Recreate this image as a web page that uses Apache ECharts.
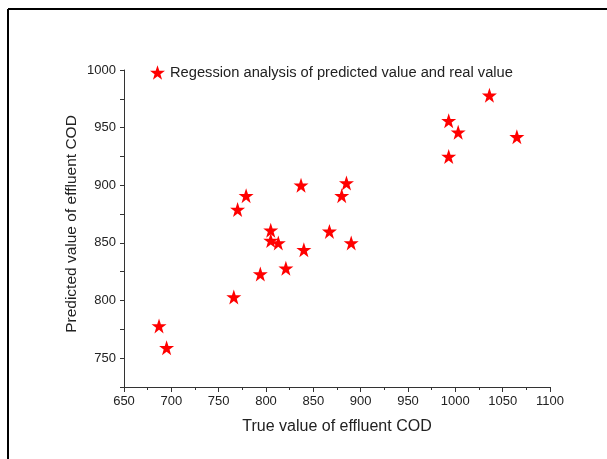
<!DOCTYPE html>
<html>
<head>
<meta charset="utf-8">
<script src="https://cdn.jsdelivr.net/npm/echarts@6/dist/echarts.min.js"></script>
<style>
  html, body { margin: 0; padding: 0; background: #fff; }
  #chart { width: 607px; height: 459px; }
</style>
</head>
<body>
<div id="chart"></div>
<script>
// valores
const trueCOD = [687, 695, 766, 794, 821, 805, 805, 813, 840, 867, 890, 770, 779, 837, 885, 880, 993, 1003, 993, 1036, 1065];
const predictedCOD = [778, 759, 803, 823, 828, 861, 852, 850, 844, 860, 850, 879, 891, 900, 902, 891, 956, 946, 925, 978, 942];
const seriesName = 'Regession analysis of predicted value and real value';

const star = 'path://M50,0 L61.8,35.1 L98.1,35.1 L68.8,56.8 L79.4,91.9 L50,70 L20.6,91.9 L31.2,56.8 L1.9,35.1 L38.2,35.1 Z';

const points = trueCOD.map((x, i) => [x, predictedCOD[i]]);

const chart = echarts.init(document.getElementById('chart'));
const textColor = '#222';
const axisColor = '#333';
const font = 'Liberation Sans, Arial';

chart.setOption({
    backgroundColor: '#fff',
    animation: false,
    grid: { left: 124, top: 70, right: 57, bottom: 72 },
    legend: {
        left: 145,
        top: 60,
        icon: star,
        itemWidth: 15,
        itemHeight: 15,
        itemGap: 8,
        textStyle: { fontFamily: font, fontSize: 14.7, color: textColor },
        data: [seriesName]
    },
    graphic: [
        { type: 'line', shape: { x1: 8, y1: 9, x2: 607, y2: 9 }, style: { stroke: '#000', lineWidth: 2 } },
        { type: 'line', shape: { x1: 8, y1: 9, x2: 8, y2: 459 }, style: { stroke: '#000', lineWidth: 2 } }
    ],
    xAxis: {
        type: 'value',
        min: 650,
        max: 1100,
        interval: 50,
        name: 'True value of effluent COD',
        nameLocation: 'middle',
        nameGap: 32,
        nameMoveOverlap: false,
        nameTextStyle: { fontFamily: font, fontSize: 16, color: textColor },
        axisLine: { show: true, lineStyle: { color: axisColor, width: 1 } },
        axisTick: { show: true, length: 5, lineStyle: { color: axisColor } },
        minorTick: { show: true, splitNumber: 2, length: 3, lineStyle: { color: axisColor } },
        axisLabel: { fontFamily: font, fontSize: 13, color: textColor, margin: 8, formatter: v => String(v) },
        splitLine: { show: false }
    },
    yAxis: {
        type: 'value',
        min: 725,
        max: 1000,
        interval: 25,
        name: 'Predicted value of effluent COD',
        nameLocation: 'middle',
        nameGap: 44,
        nameMoveOverlap: false,
        nameTextStyle: { fontFamily: font, fontSize: 15.5, color: textColor, padding: [0, 0, 0, 9] },
        axisLine: { show: true, lineStyle: { color: axisColor, width: 1 } },
        axisTick: { show: true, length: 4, lineStyle: { color: axisColor } },
        axisLabel: {
            fontFamily: font, fontSize: 13, color: textColor, margin: 8,
            formatter: v => (v % 50 === 0 ? String(v) : '')
        },
        splitLine: { show: false }
    },
    series: [{
        name: seriesName,
        type: 'scatter',
        symbol: star,
        symbolSize: 15,
        itemStyle: { color: '#ff0000', opacity: 1 },
        data: points
    }]
});
</script>
</body>
</html>
